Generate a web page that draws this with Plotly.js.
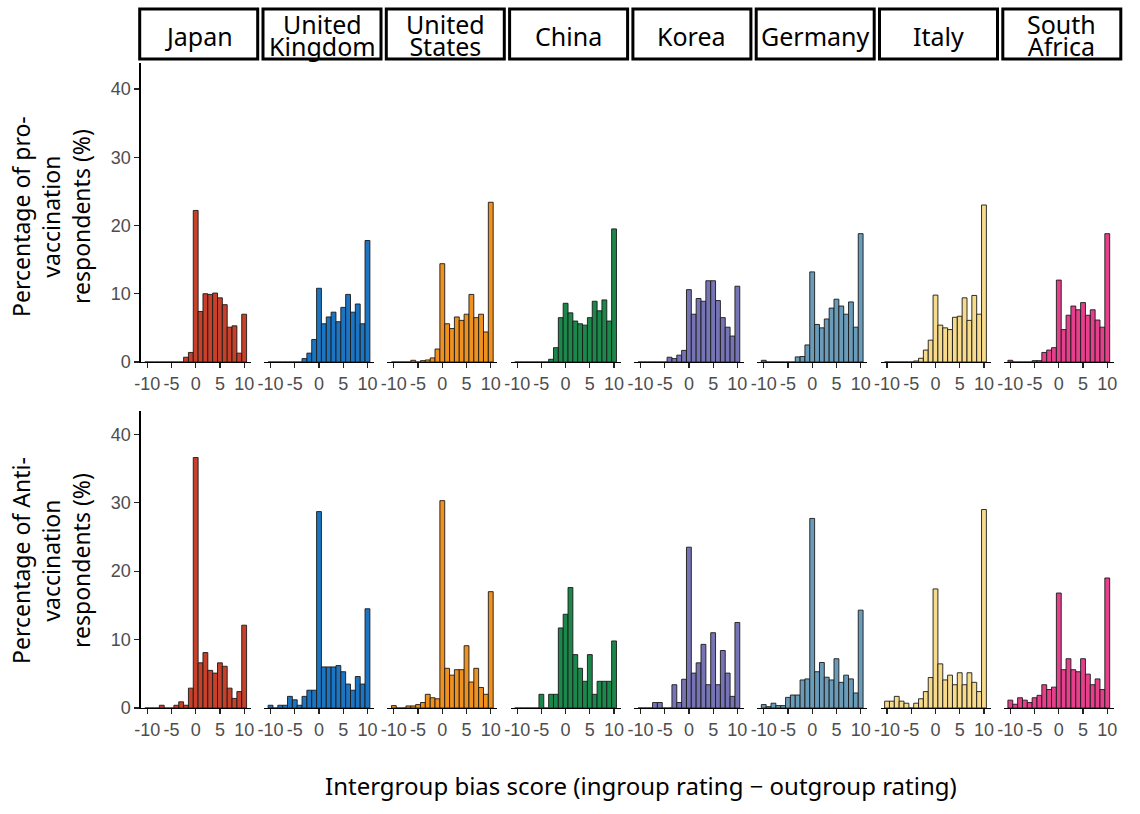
<!DOCTYPE html>
<html>
<head>
<meta charset="utf-8">
<script src="https://cdn.plot.ly/plotly-3.0.1.min.js"></script>
<style>
  html, body { margin: 0; padding: 0; background: #fff; }
  #chart { width: 1140px; height: 814px; }
</style>
</head>
<body>
<div id="chart"></div>
<script>
// bias score bins (ingroup - outgroup), one bar per integer
const scores = [-10, -9, -8, -7, -6, -5, -4, -3, -2, -1, 0, 1, 2, 3, 4, 5, 6, 7, 8, 9, 10];

const countries = ['Japan', 'United Kingdom', 'United States', 'China', 'Korea', 'Germany', 'Italy', 'South Africa'];
const stripLines = [['Japan'], ['United', 'Kingdom'], ['United', 'States'], ['China'], ['Korea'], ['Germany'], ['Italy'], ['South', 'Africa']];
const colors = ['#C7402A', '#1B75C2', '#EE911F', '#1C874A', '#7774B6', '#6A9BB8', '#F7DB8C', '#E6408C'];

// % of pro-vaccination respondents
const japanPro   = [0, 0, 0, 0, 0, 0, 0, 0, 0.7, 1.4, 22.2, 7.4, 10.0, 9.9, 10.1, 9.4, 8.4, 5.1, 5.3, 1.3, 7.0];
const ukPro      = [0, 0, 0, 0, 0, 0, 0, 0.5, 1.3, 3.3, 10.8, 5.6, 6.6, 7.3, 5.9, 8.0, 9.9, 7.3, 8.5, 5.6, 17.8];
const usPro      = [0, 0, 0, 0, 0.25, 0, 0.2, 0.3, 0.6, 1.9, 14.4, 5.6, 4.9, 6.6, 6.1, 7.0, 9.9, 6.5, 7.0, 4.4, 23.4];
const chinaPro   = [0, 0, 0, 0, 0, 0, 0, 0.4, 2.1, 6.5, 8.6, 7.2, 6.0, 5.6, 5.4, 6.5, 8.9, 7.5, 9.1, 6.0, 19.5];
const koreaPro   = [0, 0, 0, 0, 0, 0, 0.7, 0.5, 1.0, 1.7, 10.6, 7.0, 9.3, 8.9, 11.9, 11.9, 9.0, 6.5, 5.1, 3.8, 11.1];
const germanyPro = [0.25, 0, 0, 0, 0, 0, 0, 0.75, 0.8, 2.5, 13.2, 5.5, 5.0, 6.3, 7.9, 9.2, 8.2, 7.0, 8.8, 5.1, 18.8];
const italyPro   = [0, 0, 0, 0, 0, 0, 0.15, 0.55, 1.75, 3.2, 9.8, 5.4, 5.0, 4.75, 6.55, 6.7, 9.4, 6.1, 9.75, 7.0, 23.0];
const saPro      = [0.25, 0, 0, 0, 0, 0.2, 0.2, 1.4, 1.75, 2.1, 12.0, 4.75, 6.85, 8.2, 7.65, 8.7, 6.85, 7.65, 6.15, 5.1, 18.8];

// % of anti-vaccination respondents
const japanAnti   = [0, 0, 0, 0.4, 0, 0, 0.4, 0.9, 0.4, 2.9, 36.6, 6.6, 8.1, 5.5, 5.1, 6.6, 6.1, 2.9, 1.4, 2.4, 12.1];
const ukAnti      = [0.4, 0, 0.4, 0.4, 1.7, 1.2, 0.4, 1.7, 2.6, 2.6, 28.7, 6.0, 6.0, 6.0, 6.2, 5.3, 3.5, 2.6, 4.6, 3.5, 14.5];
const usAnti      = [0.35, 0, 0, 0.3, 0.3, 0.5, 0.8, 2.0, 1.5, 1.35, 30.3, 5.8, 4.8, 5.6, 5.6, 9.1, 3.8, 5.8, 3.0, 2.0, 17.0];
const chinaAnti   = [0, 0, 0, 0, 0, 2.0, 0, 2.0, 2.0, 11.7, 13.7, 17.6, 7.8, 5.8, 3.9, 7.8, 2.0, 3.9, 3.9, 3.9, 9.8];
const koreaAnti   = [0, 0, 0, 0.8, 0.8, 0, 0, 3.4, 0.8, 4.2, 23.5, 5.1, 6.6, 9.3, 3.4, 11.0, 3.4, 8.4, 5.1, 1.7, 12.5];
const germanyAnti = [0.5, 0.2, 0.7, 0.35, 0.35, 1.55, 1.9, 1.9, 4.1, 4.25, 27.7, 5.3, 6.65, 4.5, 4.1, 7.2, 3.75, 4.8, 4.25, 2.2, 14.3];
const italyAnti   = [1.0, 1.0, 1.7, 1.0, 0.7, 0, 0.7, 1.35, 2.4, 4.45, 17.4, 6.45, 4.1, 4.8, 3.4, 5.15, 3.4, 5.15, 3.75, 2.4, 29.0];
const saAnti      = [1.15, 0.55, 1.5, 1.15, 0.8, 1.5, 1.85, 3.4, 2.7, 3.05, 16.8, 5.6, 7.2, 5.6, 5.3, 7.2, 4.95, 3.4, 4.25, 2.7, 19.0];

const xTicks = [-10, -5, 0, 5, 10];
const yTicks = [0, 10, 20, 30, 40];

const rowsData = [
  [japanPro, ukPro, usPro, chinaPro, koreaPro, germanyPro, italyPro, saPro],
  [japanAnti, ukAnti, usAnti, chinaAnti, koreaAnti, germanyAnti, italyAnti, saAnti]
];
const rowTitles = [
  'Percentage of pro-<br>vaccination<br>respondents (%)',
  'Percentage of Anti-<br>vaccination<br>respondents (%)'
];

// pixel geometry
const W = 1140, H = 814;
const fx = v => v / W;
const fy = v => 1 - v / H;
const panelLeft0 = 140.7, panelStep = 123.3, panelW = 110;
const rowsGeom = [
  { top: 63, bottom: 362, range: [0, 43.8], titleY: 217 },
  { top: 411, bottom: 708, range: [0, 43.4], titleY: 561 }
];

const tickFont = { family: 'Liberation Sans, Arial, sans-serif', size: 18, color: '#4D4D4D' };
const textFont = 'Noto Sans, Open Sans, sans-serif';

const traces = [];
const layout = {
  width: W,
  height: H,
  margin: { l: 0, r: 0, t: 0, b: 0 },
  paper_bgcolor: '#fff',
  plot_bgcolor: 'rgba(0,0,0,0)',
  showlegend: false,
  bargap: 0,
  shapes: [],
  annotations: []
};

rowsGeom.forEach((g, r) => {
  countries.forEach((country, c) => {
    const n = r * 8 + c + 1;
    const sfx = n === 1 ? '' : String(n);
    const left = panelLeft0 + panelStep * c;

    traces.push({
      type: 'bar',
      x: scores,
      y: rowsData[r][c],
      xaxis: 'x' + sfx,
      yaxis: 'y' + sfx,
      width: 1,
      name: country,
      marker: { color: colors[c], line: { color: '#1a1a1a', width: 0.9 } },
      hoverinfo: 'skip'
    });

    layout['xaxis' + sfx] = {
      domain: [fx(left), fx(left + panelW)],
      anchor: 'y' + sfx,
      range: [-11.35, 11.35],
      tickmode: 'array',
      tickvals: xTicks,
      ticktext: xTicks.map(String),
      tickangle: 0,
      tickfont: tickFont,
      ticks: 'outside',
      ticklen: 5,
      tickwidth: 1.2,
      tickcolor: '#222',
      showline: true,
      linecolor: '#000',
      linewidth: 1.4,
      showgrid: false,
      zeroline: false,
      fixedrange: true
    };

    layout['yaxis' + sfx] = {
      domain: [fy(g.bottom), fy(g.top)],
      anchor: 'x' + sfx,
      range: g.range,
      tickmode: 'array',
      tickvals: yTicks,
      tickfont: tickFont,
      ticks: c === 0 ? 'outside' : '',
      ticklen: 5,
      tickwidth: 1.2,
      tickcolor: '#222',
      showticklabels: c === 0,
      showline: c === 0,
      linecolor: '#000',
      linewidth: 1.4,
      showgrid: false,
      zeroline: false,
      fixedrange: true
    };

    // facet strips, top row only
    if (r === 0) {
      const bx0 = left - 1, bx1 = left + 117;
      layout.shapes.push({
        type: 'rect', xref: 'paper', yref: 'paper',
        x0: fx(bx0), x1: fx(bx1), y0: fy(59), y1: fy(9),
        line: { color: '#000', width: 3 }, fillcolor: '#fff'
      });
      const lines = stripLines[c];
      const cx = (bx0 + bx1) / 2;
      if (lines.length === 1) {
        layout.annotations.push({
          xref: 'paper', yref: 'paper', x: fx(cx), y: fy(36),
          xanchor: 'center', yanchor: 'middle', showarrow: false,
          text: lines[0], font: { family: textFont, size: 25, color: '#000' }
        });
      } else {
        // small base size keeps the two lines tight, spans carry the glyph size
        layout.annotations.push({
          xref: 'paper', yref: 'paper', x: fx(cx), y: fy(35),
          xanchor: 'center', yanchor: 'middle', showarrow: false,
          text: lines.map(t => '<span style="font-size:25px">' + t + '</span>').join('<br>'),
          font: { family: textFont, size: 17, color: '#000' }
        });
      }
    }
  });

  layout.annotations.push({
    xref: 'paper', yref: 'paper', x: fx(51), y: fy(g.titleY),
    xanchor: 'center', yanchor: 'middle', showarrow: false, textangle: -90,
    text: rowTitles[r], font: { family: textFont, size: 23, color: '#000' }
  });
});

layout.annotations.push({
  xref: 'paper', yref: 'paper', x: fx(641), y: fy(785),
  xanchor: 'center', yanchor: 'middle', showarrow: false,
  text: 'Intergroup bias score (ingroup rating \u2212 outgroup rating)',
  font: { family: textFont, size: 24, color: '#000' }
});

Plotly.newPlot('chart', traces, layout, { displayModeBar: false, staticPlot: true });
</script>
</body>
</html>
